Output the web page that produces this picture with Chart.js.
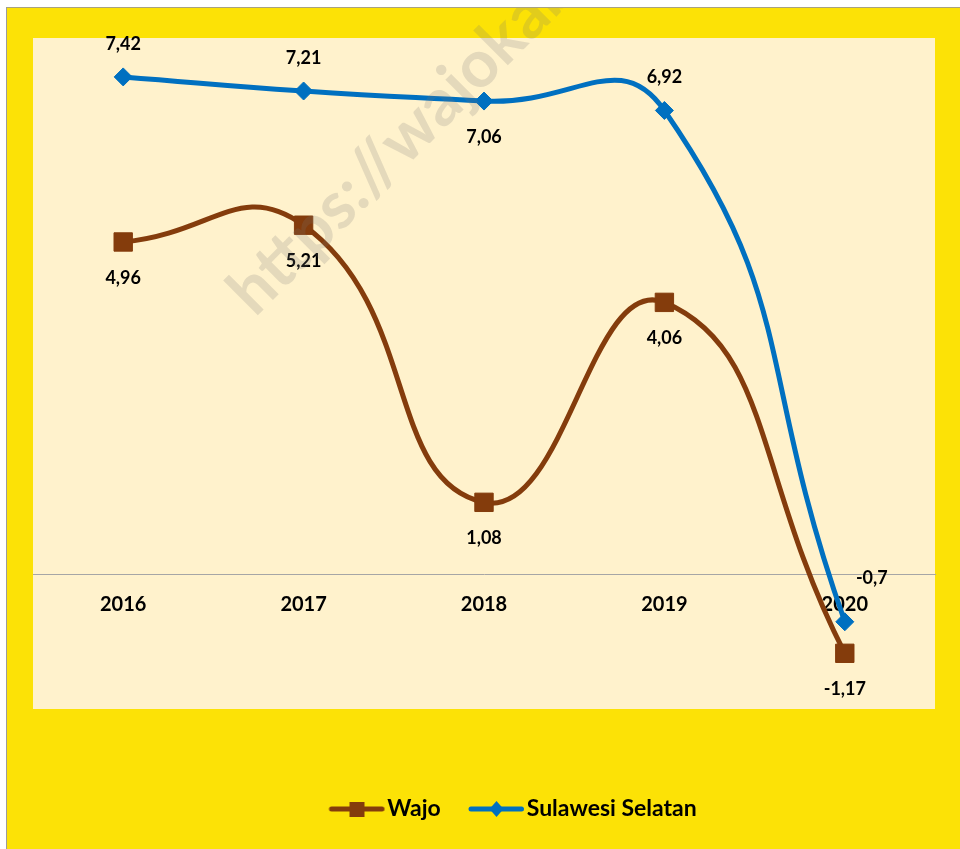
<!DOCTYPE html>
<html>
<head>
<meta charset="utf-8">
<script src="https://cdn.jsdelivr.net/npm/chart.js@4.4.1/dist/chart.umd.min.js"></script>
<style>
  html, body { margin: 0; padding: 0; background: #ffffff; }
  #frame {
    position: absolute; left: 6px; top: 7px;
    width: 954px; height: 842px;
    border-left: 1px solid #9c9c9c; border-top: 1px solid #a8a280;
    background: #fce206;
  }
  canvas { display: block; }
</style>
</head>
<body>
<div id="frame"><canvas id="chart" width="954" height="842"></canvas></div>
<script>
const years = ['2016', '2017', '2018', '2019', '2020'];
const wajo = [4.96, 5.21, 1.08, 4.06, -1.17];
const sulsel = [7.42, 7.21, 7.06, 6.92, -0.7];
// where each value label sits relative to its point
const wajoLabelPos = ['below', 'below', 'below', 'below', 'below'];
const sulselLabelPos = ['above', 'above', 'below', 'above', 'aboveRight'];

const BROWN = '#843c0c';
const BLUE = '#0070c0';
const FONT = 'Lato, "Open Sans", sans-serif';

// excel style legend key: a short line with the marker in the middle
function legendMark(color, style) {
    const c = document.createElement('canvas');
    c.width = 84; c.height = 20;
    const g = c.getContext('2d');
    g.strokeStyle = color; g.lineWidth = 5; g.lineCap = 'round';
    g.beginPath(); g.moveTo(30, 10); g.lineTo(80.5, 10); g.stroke();
    g.fillStyle = color;
    if (style === 'rect') {
        g.fillRect(48, 3, 15, 15);
    } else {
        g.beginPath(); g.moveTo(55.5, 2); g.lineTo(62.5, 10); g.lineTo(55.5, 18); g.lineTo(48.5, 10); g.closePath(); g.fill();
    }
    return c;
}
const marks = [legendMark(BROWN, 'rect'), legendMark(BLUE, 'diamond')];

const plotBg = {
    id: 'plotBg',
    beforeDraw(chart) {
        const a = chart.chartArea, ctx = chart.ctx;
        ctx.save();
        ctx.fillStyle = '#fff2cc';
        ctx.fillRect(a.left, a.top, a.right - a.left, a.bottom - a.top);
        ctx.restore();
    }
};

// legend sits a little right of centre in the original
const legendShift = {
    id: 'legendShift',
    afterLayout(chart) {
        if (chart.legend) {
            chart.legend.left += 20;
            chart.legend.right += 20;
        }
    }
};

const valueLabels = {
    id: 'valueLabels',
    afterDatasetsDraw(chart) {
        const ctx = chart.ctx;
        const positions = [wajoLabelPos, sulselLabelPos];
        ctx.save();
        ctx.font = 'bold 18px ' + FONT;
        ctx.fillStyle = '#000000';
        ctx.textAlign = 'center';
        ctx.textBaseline = 'middle';
        chart.data.datasets.forEach((ds, di) => {
            chart.getDatasetMeta(di).data.forEach((pt, i) => {
                const txt = String(ds.data[i]).replace('.', ',');
                let x = pt.x, y = pt.y;
                const pos = positions[di][i];
                if (pos === 'above') y -= 33;
                else if (pos === 'below') y += 36;
                else if (pos === 'aboveRight') { x += 27; y -= 44; }
                ctx.fillText(txt, x, y);
            });
        });
        ctx.restore();
    }
};

const watermark = {
    id: 'watermark',
    afterDraw(chart) {
        const ctx = chart.ctx;
        ctx.save();
        ctx.translate(248, 310);
        ctx.rotate(-Math.PI / 4);
        ctx.font = 'bold 66px ' + FONT;
        ctx.fillStyle = 'rgba(120, 120, 120, 0.2)';
        ctx.textBaseline = 'alphabetic';
        ctx.fillText('https://wajokab.bps.go.id', 0, 0);
        ctx.restore();
    }
};

new Chart(document.getElementById('chart'), {
    type: 'line',
    data: {
        labels: years,
        datasets: [{
            label: 'Wajo',
            data: wajo,
            borderColor: BROWN,
            backgroundColor: BROWN,
            borderWidth: 5,
            pointStyle: 'rect',
            pointRadius: 13,
            pointBorderWidth: 1,
            tension: 0.5
        }, {
            label: 'Sulawesi Selatan',
            data: sulsel,
            borderColor: BLUE,
            backgroundColor: BLUE,
            borderWidth: 5,
            pointStyle: 'rectRot',
            pointRadius: 9,
            pointBorderWidth: 1,
            tension: 0.5
        }]
    },
    options: {
        responsive: false,
        animation: false,
        layout: { padding: { left: 26, right: 26, top: 30, bottom: 19.5 } },
        scales: {
            x: {
                position: { y: 0 },
                z: 1,
                offset: true,
                afterFit: (scale) => { scale.height = 0; },
                grid: { display: false, drawTicks: false },
                border: { display: true, color: '#a6a6a6', width: 1 },
                ticks: { color: '#000000', padding: 18, font: { family: FONT, size: 20, weight: 'bold' } }
            },
            y: {
                display: false,
                min: -2,
                max: 8
            }
        },
        plugins: {
            tooltip: { enabled: false },
            legend: {
                position: 'bottom',
                title: { display: true, text: '', font: { size: 10, lineHeight: 1 }, padding: { top: 68.5, bottom: 0 } },
                labels: {
                    color: '#000000',
                    font: { family: FONT, size: 23, weight: 'bold' },
                    usePointStyle: true,
                    pointStyleWidth: 64.5,
                    padding: 10,
                    generateLabels(chart) {
                        const items = Chart.defaults.plugins.legend.labels.generateLabels(chart);
                        items.forEach((it, i) => { it.pointStyle = marks[i]; });
                        return items;
                    }
                }
            }
        }
    },
    plugins: [plotBg, legendShift, valueLabels, watermark]
});
</script>
</body>
</html>
